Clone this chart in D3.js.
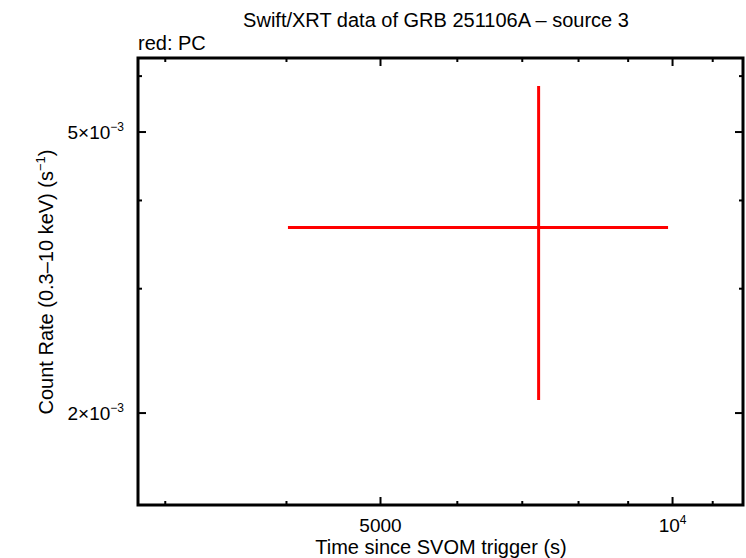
<!DOCTYPE html>
<html lang="en">
<head>
    <meta charset="UTF-8">
    <script src="https://d3js.org/d3.v7.min.js"></script>
    <title>Swift/XRT light curve</title>
    <style>
        body { margin: 0; background: #fff; }
        text { font-family: "Liberation Sans", Arial, sans-serif; }
    </style>
</head>
<body>
    <div id="chart"></div>
    <script>
        // data (one PC point)
        const times = [7277];
        const timeLo = [4014];
        const timeHi = [9894];
        const rates = [3.664e-3];
        const rateLo = [2.087e-3];
        const rateHi = [5.81e-3];

        const xMajor = [5000, 10000];
        const xMinor = [3000, 4000, 6000, 7000, 8000, 9000, 11000];
        const yMajor = [2e-3, 5e-3];
        const yMinor = [3e-3, 4e-3, 6e-3];

        const width = 746, height = 558;
        const margin = {top: 58, right: 3, bottom: 53, left: 138};

        const x = d3.scaleLog([2812, 11820], [margin.left, width - margin.right]);
        const y = d3.scaleLog([1.482e-3, 6.365e-3], [height - margin.bottom, margin.top]);

        const svg = d3.select("#chart").append("svg")
            .attr("width", width)
            .attr("height", height);

        const x0 = margin.left, x1 = width - margin.right;
        const y0 = height - margin.bottom, y1 = margin.top;

        // ticks on all four sides, pointing inward
        const tickG = svg.append("g").attr("stroke", "#000").attr("stroke-width", 2);
        function ticks(vals, len, side) {
            tickG.selectAll(null).data(vals).join("line")
                .attr("x1", d => side === "b" || side === "t" ? x(d) : (side === "l" ? x0 : x1))
                .attr("x2", d => side === "b" || side === "t" ? x(d) : (side === "l" ? x0 + len : x1 - len))
                .attr("y1", d => side === "l" || side === "r" ? y(d) : (side === "b" ? y0 : y1))
                .attr("y2", d => side === "l" || side === "r" ? y(d) : (side === "b" ? y0 - len : y1 + len));
        }
        ticks(xMajor, 8, "b"); ticks(xMinor, 4, "b");
        ticks(xMajor, 8, "t"); ticks(xMinor, 4, "t");
        ticks(yMajor, 8, "l"); ticks(yMinor, 4, "l");
        ticks(yMajor, 8, "r"); ticks(yMinor, 4, "r");

        svg.append("rect")
            .attr("x", x0).attr("y", y1)
            .attr("width", x1 - x0).attr("height", y0 - y1)
            .attr("fill", "none").attr("stroke", "#000").attr("stroke-width", 3);

        // tick labels
        const fs = 19;
        const xl = svg.append("g").attr("font-size", fs).attr("text-anchor", "middle");
        xl.append("text").attr("x", x(5000)).attr("y", y0 + 27).text("5000");
        const t4 = xl.append("text").attr("x", x(10000)).attr("y", y0 + 27);
        t4.append("tspan").text("10");
        t4.append("tspan").attr("font-size", 12).attr("dy", -8).text("4");

        const yl = svg.append("g").attr("font-size", fs).attr("text-anchor", "end");
        yMajor.forEach(v => {
            const m = Math.round(v / 1e-3);
            const t = yl.append("text").attr("x", x0 - 14).attr("y", y(v) + 7);
            t.append("tspan").text(m + "\u00d710");
            t.append("tspan").attr("font-size", 12).attr("dy", -8).text("\u22123");
        });

        // titles
        svg.append("text").attr("x", 436).attr("y", 27).attr("font-size", 20)
            .attr("text-anchor", "middle").text("Swift/XRT data of GRB 251106A \u2013 source 3");
        svg.append("text").attr("x", 138).attr("y", 50).attr("font-size", 20).text("red: PC");
        svg.append("text").attr("x", 441).attr("y", 554).attr("font-size", 20)
            .attr("text-anchor", "middle").text("Time since SVOM trigger (s)");
        const yt = svg.append("text").attr("font-size", 20).attr("text-anchor", "middle")
            .attr("transform", "translate(53,282) rotate(-90)");
        yt.append("tspan").text("Count Rate (0.3\u201310 keV) (s");
        yt.append("tspan").attr("font-size", 13).attr("dy", -8).text("\u22121");
        yt.append("tspan").attr("dy", 8).text(")");

        // error bars
        const pts = d3.range(times.length);
        const eb = svg.append("g").attr("stroke", "#ff0000").attr("stroke-width", 3);
        eb.selectAll(".h").data(pts).join("line")
            .attr("x1", i => x(timeLo[i])).attr("x2", i => x(timeHi[i]))
            .attr("y1", i => y(rates[i])).attr("y2", i => y(rates[i]));
        eb.selectAll(".v").data(pts).join("line")
            .attr("x1", i => x(times[i])).attr("x2", i => x(times[i]))
            .attr("y1", i => y(rateLo[i])).attr("y2", i => y(rateHi[i]));
    </script>
</body>
</html>
